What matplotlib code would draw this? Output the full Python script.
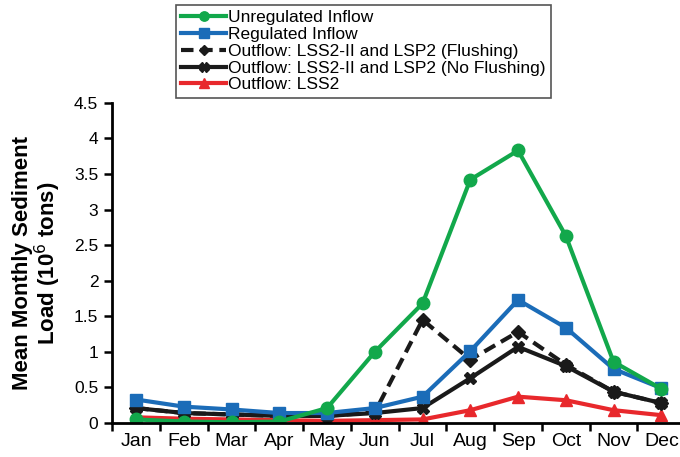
import matplotlib.pyplot as plt

plt.rcParams["font.family"] = ["Liberation Sans", "DejaVu Sans"]

months = ["Jan", "Feb", "Mar", "Apr", "May", "Jun", "Jul", "Aug", "Sep", "Oct", "Nov", "Dec"]
unregulated = [0.05, 0.02, 0.01, 0.02, 0.21, 1.00, 1.68, 3.42, 3.83, 2.63, 0.86, 0.48]
regulated = [0.33, 0.23, 0.19, 0.14, 0.14, 0.21, 0.37, 1.01, 1.73, 1.34, 0.76, 0.49]
flushing = [0.21, 0.14, 0.12, 0.10, 0.10, 0.15, 1.45, 0.89, 1.28, 0.82, 0.44, 0.28]
no_flushing = [0.21, 0.14, 0.12, 0.10, 0.10, 0.14, 0.21, 0.63, 1.07, 0.80, 0.44, 0.28]
lss2 = [0.08, 0.06, 0.05, 0.04, 0.03, 0.04, 0.05, 0.18, 0.37, 0.32, 0.18, 0.11]

GREEN = "#12a84b"
BLUE = "#1b6cb8"
RED = "#e8282c"
LW = 3

fig = plt.figure(figsize=(6.8, 4.57), dpi=100)
ax = fig.add_axes([0.165, 0.0744, 0.8426, 0.7006])

x = list(range(len(months)))
l_red, = ax.plot(x, lss2, color=RED, lw=LW, marker="^", ms=9, label="Outflow: LSS2")
l_nf, = ax.plot(x, no_flushing, color="#1a1a1a", lw=LW, marker="X", ms=9,
                label="Outflow: LSS2-II and LSP2 (No Flushing)")
l_f, = ax.plot(x, flushing, color="#1a1a1a", lw=LW, ls=(0, (3, 1.6)), marker="D", ms=7,
               label="Outflow: LSS2-II and LSP2 (Flushing)")
l_blue, = ax.plot(x, regulated, color=BLUE, lw=LW, marker="s", ms=9, label="Regulated Inflow")
l_green, = ax.plot(x, unregulated, color=GREEN, lw=LW, marker="o", ms=9, label="Unregulated Inflow")

ax.set_xlim(-0.5, 11.5)
ax.set_ylim(0, 4.5)
ax.set_yticks([0, 0.5, 1, 1.5, 2, 2.5, 3, 3.5, 4, 4.5])
ax.set_yticklabels(["0", "0.5", "1", "1.5", "2", "2.5", "3", "3.5", "4", "4.5"], fontsize=12.5)
ax.set_xticks([i + 0.5 for i in range(-1, 12)])
ax.set_xticklabels([])
ax.set_xticks(x, minor=True)
ax.set_xticklabels(months, minor=True, fontsize=14)
ax.tick_params(axis="x", which="minor", length=0, pad=7)
ax.tick_params(axis="x", which="major", length=6, width=1.8, direction="out")
ax.tick_params(axis="y", length=6, width=1.8, direction="out", pad=4)

for side in ["top", "right"]:
    ax.spines[side].set_visible(False)
for side in ["left", "bottom"]:
    ax.spines[side].set_linewidth(2)

ax.set_ylabel("Mean Monthly Sediment\nLoad (10$^6$ tons)", fontsize=16, fontweight="bold",
              labelpad=8, linespacing=1.0)

leg = fig.legend(handles=[l_green, l_blue, l_f, l_nf, l_red], loc="upper left",
                 bbox_to_anchor=(0.259, 0.99), borderaxespad=0, fontsize=12.5,
                 handlelength=2.6, handletextpad=0.1, labelspacing=0.1, borderpad=0.3,
                 fancybox=False, edgecolor="#555555", framealpha=1, markerscale=0.75)
leg.get_frame().set_linewidth(1.2)

plt.savefig("out.png", dpi=100)
